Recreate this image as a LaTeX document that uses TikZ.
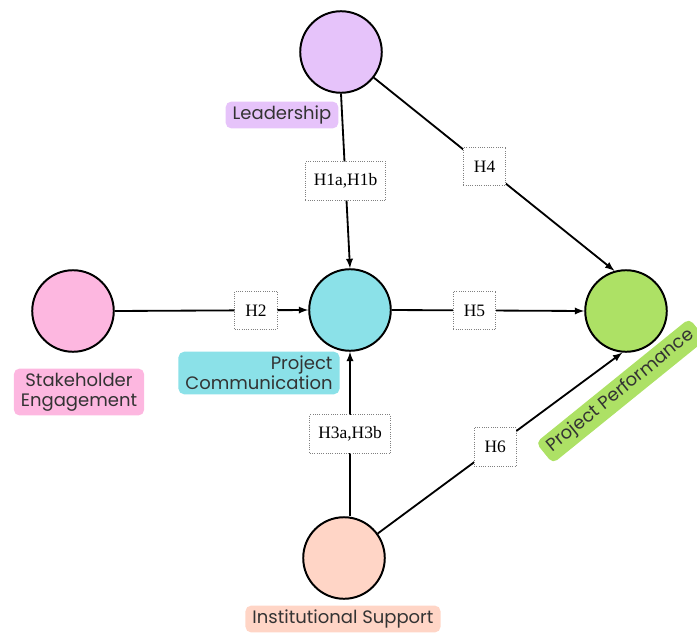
\documentclass[tikz,border=0pt]{standalone}
\usepackage{fontspec}
\setmainfont{Poppins}
\newfontfamily\hypfont{Liberation Serif}
\usepackage{xcolor}
\usetikzlibrary{arrows}

\definecolor{leadcol}{HTML}{E6C3FA}
\definecolor{stakecol}{HTML}{FDB7E0}
\definecolor{commcol}{HTML}{8BE1E8}
\definecolor{perfcol}{HTML}{ADE165}
\definecolor{instcol}{HTML}{FFD5C6}
\definecolor{tagtext}{HTML}{333333}

\begin{document}
\begin{tikzpicture}[x=0.025cm,y=-0.025cm,
  construct/.style={circle,draw=black,line width=1.4pt,minimum size=58pt,inner sep=0pt},
  tag/.style={rounded corners=4pt,text=tagtext,font=\fontsize{12.8}{14.4}\selectfont,inner xsep=5pt,inner ysep=3pt,minimum height=19pt},
  hyp/.style={fill=white,draw=gray,densely dotted,line width=0.6pt,font=\hypfont\fontsize{12.4}{14}\selectfont,minimum height=27.5pt,minimum width=30pt,inner xsep=6pt},
  link/.style={-latex,line width=1.3pt}]
  \useasboundingbox (0,0) rectangle (697,632);

  \node[construct,fill=leadcol] (lead) at (341,52) {};
  \node[construct,fill=stakecol] (stake) at (73,311) {};
  \node[construct,fill=commcol] (comm) at (350,310) {};
  \node[construct,fill=perfcol] (perf) at (626,311) {};
  \node[construct,fill=instcol] (inst) at (344,558) {};

  \node[tag,fill=leadcol] (leadtag) at (282,115) {Leadership};
  \node[tag,fill=stakecol,align=center] (staketag) at (79,392) {Stakeholder\\Engagement};
  \node[tag,fill=commcol,align=right] (commtag) at (259,373) {Project\\Communication};
  \node[tag,fill=perfcol,rotate=39] (perftag) at (621,391) {Project Performance};
  \node[tag,fill=instcol] (insttag) at (343,619) {Institutional Support};

  \draw[link] (lead.south) -- node[hyp,pos=0.5] (h1) {H1a,H1b} (comm.north);
  \draw[link] (lead.-38) -- node[hyp,pos=0.46] (h4) {H4} (perf.106);
  \draw[link] (stake.east) -- node[hyp,pos=0.73] (h2) {H2} (comm.west);
  \draw[link] (comm.east) -- node[hyp,pos=0.43] (h5) {H5} (perf.west);
  \draw[link] (inst.north -| comm.south) -- node[hyp,pos=0.5] (h3) {H3a,H3b} (comm.south);
  \draw[link] (inst.36) -- node[hyp,pos=0.48] (h6) {H6} (perf.-95);
\end{tikzpicture}
\end{document}
